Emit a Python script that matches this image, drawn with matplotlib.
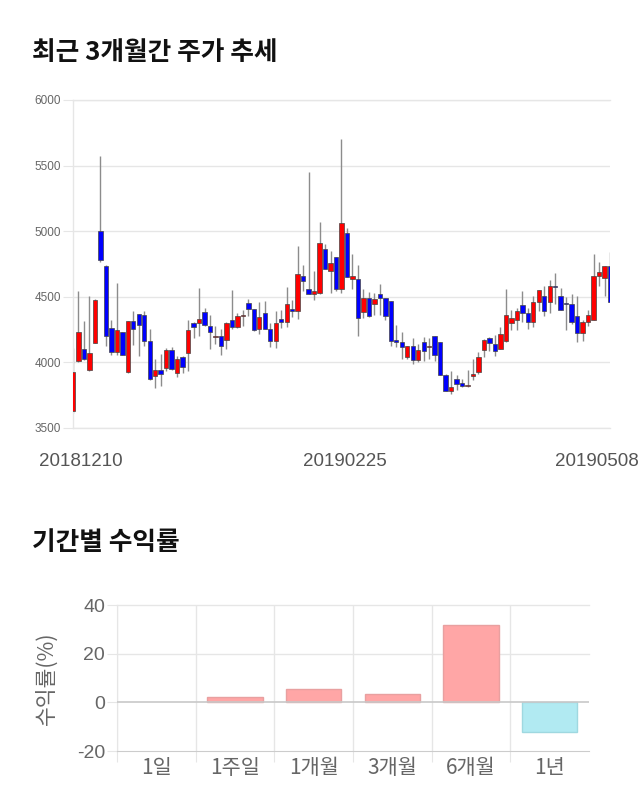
import matplotlib
matplotlib.use("Agg")
import matplotlib.pyplot as plt
import matplotlib.transforms as mtransforms
import numpy as np

plt.rcParams['font.family'] = ['Liberation Sans', 'Noto Sans CJK KR', 'DejaVu Sans']
plt.rcParams['axes.unicode_minus'] = False

# ---- data: daily candles 20181210 .. 20190508 ----
opens = [3627, 4008, 4104, 3939, 4147, 4998, 4734, 4261, 4076, 4231,
         3926, 4317, 4368, 4358, 4165, 3899, 3939, 3954, 4091, 3919,
         4041, 4071, 4302, 4300, 4383, 4279, 4190, 4198, 4168, 4325,
         4267, 4350, 4452, 4406, 4254, 4376, 4254, 4160, 4333, 4305,
         4406, 4388, 4660, 4561, 4523, 4528, 4866, 4693, 4802, 4561,
         4985, 4635, 4635, 4383, 4490, 4444, 4520, 4490, 4465, 4173,
         4152, 4041, 4122, 4020, 4152, 4114, 4203, 4155, 3906, 3784,
         3876, 3843, 3817, 3893, 3924, 4091, 4185, 4142, 4102, 4160,
         4300, 4325, 4434, 4376, 4305, 4459, 4508, 4459, 4584, 4508,
         4452, 4447, 4355, 4223, 4305, 4325, 4662, 4642, 4736]
highs = [4109, 4546, 4312, 4503, 4480, 5574, 4740, 4325, 4604, 4235,
         4317, 4393, 4370, 4393, 4256, 4025, 4066, 4109, 4117, 4046,
         4045, 4325, 4305, 4566, 4414, 4363, 4279, 4256, 4307, 4553,
         4376, 4401, 4482, 4408, 4459, 4470, 4300, 4393, 4401, 4574,
         4477, 4888, 4744, 5449, 4698, 5069, 4904, 4850, 4805, 5701,
         5023, 4825, 4744, 4561, 4536, 4528, 4596, 4492, 4467, 4287,
         4231, 4125, 4185, 4142, 4193, 4185, 4205, 4157, 3908, 3932,
         3901, 3876, 3944, 4025, 4076, 4175, 4193, 4211, 4269, 4561,
         4401, 4414, 4548, 4414, 4503, 4555, 4584, 4629, 4680, 4566,
         4497, 4523, 4503, 4325, 4401, 4825, 4769, 4736, 4845]
lows = [3614, 4000, 4020, 3935, 4145, 4769, 4127, 4053, 4058, 4053,
        3920, 4129, 4046, 4122, 3868, 3805, 3822, 3932, 3945, 3888,
        3919, 3932, 4185, 4203, 4280, 4102, 4142, 4053, 4104, 4256,
        4265, 4274, 4350, 4236, 4218, 4252, 4117, 4109, 4261, 4267,
        4343, 4330, 4541, 4520, 4477, 4523, 4710, 4528, 4541, 4528,
        4648, 4558, 4203, 4338, 4343, 4358, 4358, 4325, 4122, 4117,
        4025, 4025, 3987, 4000, 4008, 4025, 4008, 3904, 3779, 3759,
        3792, 3815, 3815, 3868, 3914, 4038, 4084, 4046, 4100, 4155,
        4244, 4244, 4307, 4254, 4267, 4393, 4350, 4376, 4444, 4401,
        4244, 4292, 4155, 4160, 4274, 4323, 4584, 4503, 4459]
closes = [3924, 4231, 4025, 4071, 4477, 4782, 4203, 4076, 4244, 4058,
          4317, 4256, 4287, 4160, 3873, 3944, 3914, 4091, 3949, 4025,
          3965, 4249, 4269, 4333, 4282, 4231, 4198, 4122, 4300, 4267,
          4350, 4360, 4406, 4249, 4343, 4254, 4160, 4300, 4305, 4444,
          4393, 4673, 4622, 4523, 4546, 4909, 4713, 4756, 4561, 5061,
          4650, 4660, 4338, 4490, 4350, 4482, 4490, 4350, 4160, 4152,
          4114, 4122, 4020, 4091, 4089, 4127, 4053, 3906, 3784, 3810,
          3838, 3817, 3830, 3914, 4038, 4173, 4147, 4084, 4216, 4358,
          4338, 4393, 4376, 4305, 4459, 4553, 4393, 4579, 4571, 4401,
          4444, 4307, 4223, 4305, 4363, 4660, 4688, 4736, 4459]
date_ticks = [0, 49, 98]
date_labels = ['20181210', '20190225', '20190508']

# ---- data: period returns ----
periods = ['1일', '1주일', '1개월', '3개월', '6개월', '1년']
returns = [0.0, 2.1, 5.6, 3.4, 31.6, -12.1]

# ---- figure ----
fig = plt.figure(figsize=(6.4, 8.1), dpi=100)
W, H = 640.0, 810.0

def axes_px(l, t, r, b):
    return fig.add_axes([l / W, 1 - b / H, (r - l) / W, (b - t) / H])

grid_c = '#e6e6e6'

# ---------- candlestick chart ----------
ax1 = axes_px(73, 100, 610, 428)
o = np.array(opens, float)
h = np.array(highs, float)
l = np.array(lows, float)
c = np.array(closes, float)
x = np.arange(len(o))
up = c >= o
cols = np.where(up, '#ff0000', '#0000ff')
ax1.vlines(x, l, h, color='#8c8c8c', linewidth=1.0, zorder=2)
bottoms = np.minimum(o, c)
heights = np.maximum(np.abs(c - o), 8)
ax1.bar(x, heights, bottom=bottoms, width=0.8, color=cols,
        edgecolor='#444444', linewidth=0.5, zorder=3)
ax1.set_xlim(0, 98)
ax1.set_ylim(3500, 6000)
ax1.set_yticks(np.arange(3500, 6001, 500))
ax1.yaxis.grid(True, color=grid_c, linewidth=1)
ax1.set_axisbelow(True)
ax1.spines['right'].set_visible(False)
for s in ['top', 'bottom', 'left']:
    ax1.spines[s].set_color(grid_c)
    ax1.spines[s].set_linewidth(1)
ax1.tick_params(axis='y', length=7.5, color=grid_c, labelsize=8.5,
                labelcolor='#666666', pad=1)
ax1.set_xticks(date_ticks)
ax1.set_xticklabels(date_labels)
ax1.tick_params(axis='x', length=0, labelsize=13.5, labelcolor='#555555', pad=18)
offsets = [8, 3, -13]
for lab, dx in zip(ax1.get_xticklabels(), offsets):
    lab.set_transform(lab.get_transform() +
                      mtransforms.ScaledTranslation(dx / 100.0, 0, fig.dpi_scale_trans))

fig.text(32 / W, 1 - 52 / H, '최근 3개월간 주가 추세', fontsize=18.5, fontweight='bold',
         va='center', ha='left', family=['Noto Sans CJK KR'], color='#111111')

# ---------- returns bar chart ----------
ax2 = axes_px(117, 605, 589, 751)
xi = np.arange(len(periods))
bcols = ['#ffa6a6' if v >= 0 else '#b1eaf2' for v in returns]
ecols = ['#e8a0a0' if v >= 0 else '#9fd8e0' for v in returns]
lws = [1 if v != 0 else 0 for v in returns]
ax2.bar(xi, returns, width=0.7, color=bcols, edgecolor=ecols, linewidth=lws, zorder=3)
ax2.set_xlim(-0.5, 5.5)
ax2.set_ylim(-20, 40)
ax2.set_yticks([-20, 0, 20, 40])
for yv in [20, 40]:
    ax2.axhline(yv, color=grid_c, linewidth=1, zorder=1, clip_on=False)
ax2.axhline(0, color='#c8c8c8', linewidth=1.2, zorder=4)
for xv in np.arange(-0.5, 5.0, 1.0):
    ax2.axvline(xv, color=grid_c, linewidth=1, zorder=1)
for s in ['top', 'right']:
    ax2.spines[s].set_visible(False)
ax2.spines['left'].set_color(grid_c)
ax2.spines['bottom'].set_color('#cccccc')
ax2.tick_params(axis='y', length=7.5, color=grid_c, labelsize=14,
                labelcolor='#666666', pad=1)
ax2.set_xticks(np.arange(-0.5, 5.0, 1.0))
ax2.set_xticklabels([''] * 6)
ax2.tick_params(axis='x', which='major', length=8, color=grid_c)
ax2.set_xticks(xi, minor=True)
ax2.set_xticklabels(periods, minor=True)
ax2.tick_params(axis='x', which='minor', length=0, labelsize=15,
                labelcolor='#666666', pad=4)
for lab in ax2.get_xticklabels(minor=True):
    lab.set_family(['Noto Sans CJK KR'])
ax2.set_ylabel('수익률(%)', fontsize=15.5, color='#666666', va='center',
               family=['Noto Sans CJK KR'])
ax2.yaxis.set_label_coords(-0.15, 0.5)

fig.text(32 / W, 1 - 543 / H, '기간별 수익률', fontsize=18.5, fontweight='bold',
         va='center', ha='left', family=['Noto Sans CJK KR'], color='#111111')

fig.savefig('out.png', dpi=100)
